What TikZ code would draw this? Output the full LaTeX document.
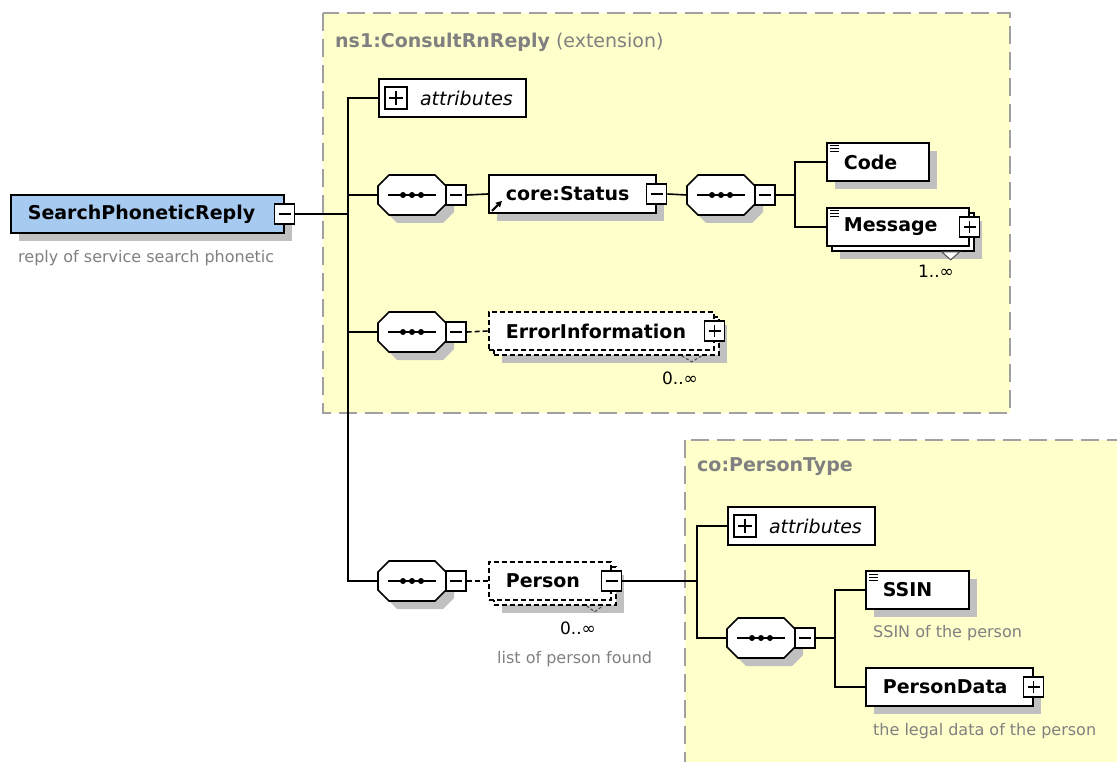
\documentclass[tikz,border=0pt]{standalone}
\usepackage{fontspec}
\setmainfont{DejaVu Sans}
\usetikzlibrary{shadows,arrows.meta}
\definecolor{frameyellow}{RGB}{255,255,204}
\definecolor{framegray}{RGB}{160,160,160}
\definecolor{shadegray}{RGB}{192,192,192}
\definecolor{rootblue}{RGB}{166,202,240}
\definecolor{notegray}{RGB}{128,128,128}
\newcommand*{\lblfont}{\fontsize{19}{22}\selectfont}
\newcommand*{\descfont}{\fontsize{16}{19}\selectfont}
\newcommand*{\octpath}{(-34,-9) -- (-23,-20) -- (23,-20) -- (34,-9) -- (34,9) -- (23,20) -- (-23,20) -- (-34,9) -- cycle}
\tikzset{
  typeframe/.style={draw=framegray,fill=frameyellow,line width=2pt,dash pattern=on 18pt off 8pt},
  shade/.style={drop shadow={shadow xshift=8pt,shadow yshift=-8pt,fill=shadegray,opacity=1}},
  wire/.style={line width=1.6pt},
  optwire/.style={wire,dash pattern=on 5pt off 3pt},
  elem/.style={draw,fill=white,line width=1.7pt,minimum height=38pt,inner xsep=17pt,inner ysep=0pt,
    text width=#1,align=left,anchor=west,font=\lblfont\bfseries},
  optelem/.style={elem=#1,dash pattern=on 5pt off 3pt},
  attrbox/.style={draw,fill=white,line width=1.7pt,minimum height=38pt,inner xsep=13pt,inner ysep=0pt,
    text width=121pt,align=right,anchor=west,font=\lblfont\itshape},
  simple/.style={path picture={
    \foreach \k in {3,6,9}
      \draw[line width=1pt] ([xshift=3pt,yshift=-\k pt]path picture bounding box.north west) -- ++(9pt,0pt);}},
  btn/.style={draw,fill=white,line width=1.4pt,minimum width=20pt,minimum height=20pt,inner sep=0pt},
  minus/.style={btn,path picture={
    \draw[line width=1.4pt] ([xshift=4pt]path picture bounding box.west) -- ([xshift=-4pt]path picture bounding box.east);}},
  plus/.style={btn,path picture={
    \draw[line width=1.4pt] ([xshift=4pt]path picture bounding box.west) -- ([xshift=-4pt]path picture bounding box.east);
    \draw[line width=1.4pt] ([yshift=-4pt]path picture bounding box.north) -- ([yshift=4pt]path picture bounding box.south);}},
  seqc/.pic={
    \fill[shadegray,shift={(8,8)}] \octpath;
    \draw[fill=white,line width=1.7pt] \octpath;
    \draw[line width=1.5pt] (-24,0) -- (24,0);
    \foreach \dx in {-9,0,9}
      \fill[black] (\dx,0) circle (3pt);
    \node[inner sep=0pt,minimum width=68pt,minimum height=40pt] (-box) at (0,0) {};
    \node[minus] (-btn) at (44,0) {};
  },
  note/.style={anchor=west,text=notegray,font=\descfont,inner sep=0pt},
  occurs/.style={font=\fontsize{17}{20}\selectfont,inner sep=0pt},
  marker/.style={line width=1pt,draw=black!70,fill=white},
  optmarker/.style={line width=1pt,draw=black!70,dash pattern=on 3pt off 2pt}
}
\begin{document}
\begin{tikzpicture}[x=1pt,y=-1pt]
  \useasboundingbox (0,0) rectangle (1117,762);
  % type frames
  \draw[typeframe] (323,13) rectangle (1010,413);
  \draw[typeframe] (685,440) rectangle (1140,790);
  \node[anchor=west,inner sep=0pt,text=notegray,font=\lblfont] (rntitle) at (335,42) {\textbf{ns1:ConsultRnReply} (extension)};
  \node[anchor=west,inner sep=0pt,text=notegray,font=\lblfont\bfseries] (ptitle) at (697,467) {co:PersonType};

  % root element
  \node[elem=239pt,fill=rootblue,shade] (root) at (10,214) {SearchPhoneticReply};
  \node[minus] (rootb) at (root.east) {};
  \node[note] (rootnote) at (18,258) {reply of service search phonetic};
  \coordinate (t0) at (348,214);

  % ns1:ConsultRnReply content
  \node[attrbox] (a1) at (378,98) {attributes};
  \node[plus,minimum width=22pt,minimum height=22pt] (a1p) at ([xshift=18pt]a1.west) {};

  \pic (s1) at (412,195) {seqc};
  \node[elem=133pt,shade] (cs) at (488,194) {core:Status};
  \node[minus] (csb) at (cs.east) {};
  \draw[line width=2pt,-{Triangle[length=6pt,width=6pt]}] ([xshift=4pt,yshift=3pt]cs.south west) -- ++(10,-10);

  \pic (s2) at (721,195) {seqc};
  \coordinate (t2) at (795,195);
  \node[elem=68pt,shade,simple] (code) at (826,162) {Code};
  \node[elem=108pt,shade] (msgbk) at (831,232) {};
  \node[elem=108pt,simple] (msg) at (826,227) {Message};
  \node[plus] (msgb) at (msg.east) {};
  \draw[marker] ([xshift=-33pt]msgbk.south east) -- ++(9,8) -- ++(9,-8) -- cycle;
  \node[occurs] (msgocc) at (936,271) {1..∞};

  \pic (s3) at (412,332) {seqc};
  \node[optelem=191pt,shade] (errbk) at (493,336) {};
  \node[optelem=191pt] (err) at (488,331) {ErrorInformation};
  \node[plus] (errb) at (err.east) {};
  \draw[optmarker] ([xshift=-38pt]errbk.south east) -- ++(10,6) -- ++(10,-6);
  \node[occurs] (errocc) at (680,378) {0..∞};

  % Person
  \pic (s4) at (412,581) {seqc};
  \node[optelem=88pt,shade] (persbk) at (493,586) {};
  \node[optelem=88pt] (pers) at (488,581) {Person};
  \node[minus] (persb) at (pers.east) {};
  \draw[optmarker] ([xshift=-30pt]persbk.south east) -- ++(8,6) -- ++(8,-6);
  \node[occurs] (persocc) at (578,628) {0..∞};
  \node[note] (persnote) at (497,659) {list of person found};
  \coordinate (t5) at (697,581);

  % co:PersonType content
  \node[attrbox] (a2) at (727,526) {attributes};
  \node[plus,minimum width=22pt,minimum height=22pt] (a2p) at ([xshift=18pt]a2.west) {};
  \pic (s5) at (761,638) {seqc};
  \coordinate (t6) at (835,638);
  \node[elem=69pt,shade,simple] (ssin) at (865,590) {SSIN};
  \node[note] (ssinnote) at (873,633) {SSIN of the person};
  \node[elem=133pt,shade] (pdata) at (865,687) {PersonData};
  \node[plus] (pdatab) at (pdata.east) {};
  \node[note] (pdatanote) at (873,731) {the legal data of the person};

  % connectors
  \draw[wire] (rootb.east) -- (t0);
  \draw[wire] (a1.west) -| (t0);
  \draw[wire] (s4-box.west) -| (t0);
  \draw[wire] (s1-box.west) -- (s1-box.west -| t0);
  \draw[wire] (s3-box.west) -- (s3-box.west -| t0);
  \draw[wire] (s1-btn.east) -- (cs.west);
  \draw[wire] (csb.east) -- (s2-box.west);
  \draw[wire] (s2-btn.east) -- (t2);
  \draw[wire] (code.west) -| (t2);
  \draw[wire] (msg.west) -| (t2);
  \draw[optwire] (s3-btn.east) -- (err.west);
  \draw[optwire] (s4-btn.east) -- (pers.west);
  \draw[wire] (persb.east) -- (t5);
  \draw[wire] (a2.west) -| (t5);
  \draw[wire] (s5-box.west) -| (t5);
  \draw[wire] (s5-btn.east) -- (t6);
  \draw[wire] (ssin.west) -| (t6);
  \draw[wire] (pdata.west) -| (t6);
\end{tikzpicture}
\end{document}
